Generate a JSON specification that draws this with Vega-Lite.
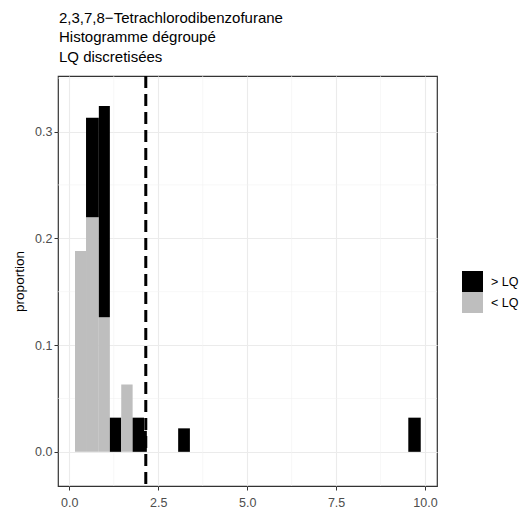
{
  "$schema": "https://vega.github.io/schema/vega-lite/v6.json",
  "width": 379,
  "height": 410,
  "autosize": {"type": "none"},
  "padding": {"left": 58, "top": 76, "right": 91, "bottom": 25},
  "background": "white",
  "title": {
    "text": ["2,3,7,8−Tetrachlorodibenzofurane", "Histogramme dégroupé", "LQ discretisées"],
    "anchor": "start",
    "frame": "group",
    "font": "Liberation Sans",
    "fontSize": 15,
    "fontWeight": "normal",
    "color": "#000000",
    "lineHeight": 19.5,
    "offset": -5,
    "baseline": "bottom",
    "dx": 1
  },
  "config": {
    "font": "Liberation Sans",
    "view": {"stroke": "#333333", "strokeWidth": 1.2},
    "axis": {
      "labelFont": "Liberation Sans",
      "labelFontSize": 12.5,
      "labelColor": "#4D4D4D",
      "tickColor": "#333333",
      "tickSize": 4,
      "domain": false,
      "gridColor": "#EBEBEB",
      "gridWidth": 1.1
    }
  },
  "datasets": {
    "bars": [
      {"grp": "< LQ", "x0": 0.16, "x1": 0.47, "y0": 0, "y1": 0.188},
      {"grp": "< LQ", "x0": 0.47, "x1": 0.83, "y0": 0, "y1": 0.2197},
      {"grp": "> LQ", "x0": 0.47, "x1": 0.83, "y0": 0.2197, "y1": 0.313},
      {"grp": "< LQ", "x0": 0.83, "x1": 1.14, "y0": 0, "y1": 0.126},
      {"grp": "> LQ", "x0": 0.83, "x1": 1.14, "y0": 0.126, "y1": 0.324},
      {"grp": "> LQ", "x0": 1.14, "x1": 1.46, "y0": 0, "y1": 0.032},
      {"grp": "< LQ", "x0": 1.46, "x1": 1.78, "y0": 0, "y1": 0.063},
      {"grp": "> LQ", "x0": 1.78, "x1": 2.10, "y0": 0, "y1": 0.032},
      {"grp": "> LQ", "x0": 2.10, "x1": 2.18, "y0": 0, "y1": 0.0197},
      {"grp": "> LQ", "x0": 3.06, "x1": 3.39, "y0": 0, "y1": 0.022},
      {"grp": "> LQ", "x0": 9.53, "x1": 9.88, "y0": 0, "y1": 0.032}
    ],
    "minorx": [{"v": 1.25}, {"v": 3.75}, {"v": 6.25}, {"v": 8.75}],
    "minory": [{"v": 0.05}, {"v": 0.15}, {"v": 0.25}, {"v": 0.35}],
    "vline": [{"v": 2.15}]
  },
  "layer": [
    {
      "data": {"name": "minorx"},
      "mark": {"type": "rule", "color": "#F2F2F2", "strokeWidth": 0.6},
      "encoding": {
        "x": {"field": "v", "type": "quantitative", "scale": {"domain": [-0.318, 10.337], "nice": false, "zero": false}}
      }
    },
    {
      "data": {"name": "minory"},
      "mark": {"type": "rule", "color": "#F2F2F2", "strokeWidth": 0.6},
      "encoding": {
        "y": {"field": "v", "type": "quantitative", "scale": {"domain": [-0.032, 0.352], "nice": false, "zero": false}}
      }
    },
    {
      "data": {"name": "bars"},
      "mark": {"type": "rect"},
      "encoding": {
        "x": {"field": "x0", "type": "quantitative", "scale": {"domain": [-0.318, 10.337], "nice": false, "zero": false},
              "axis": {"values": [0, 2.5, 5, 7.5, 10], "format": ".1f", "title": null, "labelPadding": 6}},
        "x2": {"field": "x1"},
        "y": {"field": "y0", "type": "quantitative", "scale": {"domain": [-0.032, 0.352], "nice": false, "zero": false},
              "axis": {"values": [0, 0.1, 0.2, 0.3], "format": ".1f", "title": "proportion", "titleFont": "Liberation Sans", "titleFontSize": 13.5, "titleFontWeight": "normal", "titleColor": "#000000", "titlePadding": 8, "labelPadding": 2}},
        "y2": {"field": "y1"},
        "color": {
          "field": "grp", "type": "nominal",
          "scale": {"domain": ["> LQ", "< LQ"], "range": ["#000000", "#BEBEBE"]},
          "legend": {
            "title": null, "orient": "none", "legendX": 404, "legendY": 195,
            "symbolType": "square", "symbolSize": 441, "symbolStrokeWidth": 0, "symbolOpacity": 1,
            "labelFontSize": 12.5, "labelColor": "#000000", "labelFont": "Liberation Sans",
            "rowPadding": 0, "padding": 0, "labelOffset": 8
          }
        }
      }
    },
    {
      "data": {"name": "vline"},
      "mark": {"type": "rule", "color": "#000000", "strokeWidth": 3, "strokeDash": [12, 6]},
      "encoding": {
        "x": {"field": "v", "type": "quantitative"}
      }
    }
  ]
}
